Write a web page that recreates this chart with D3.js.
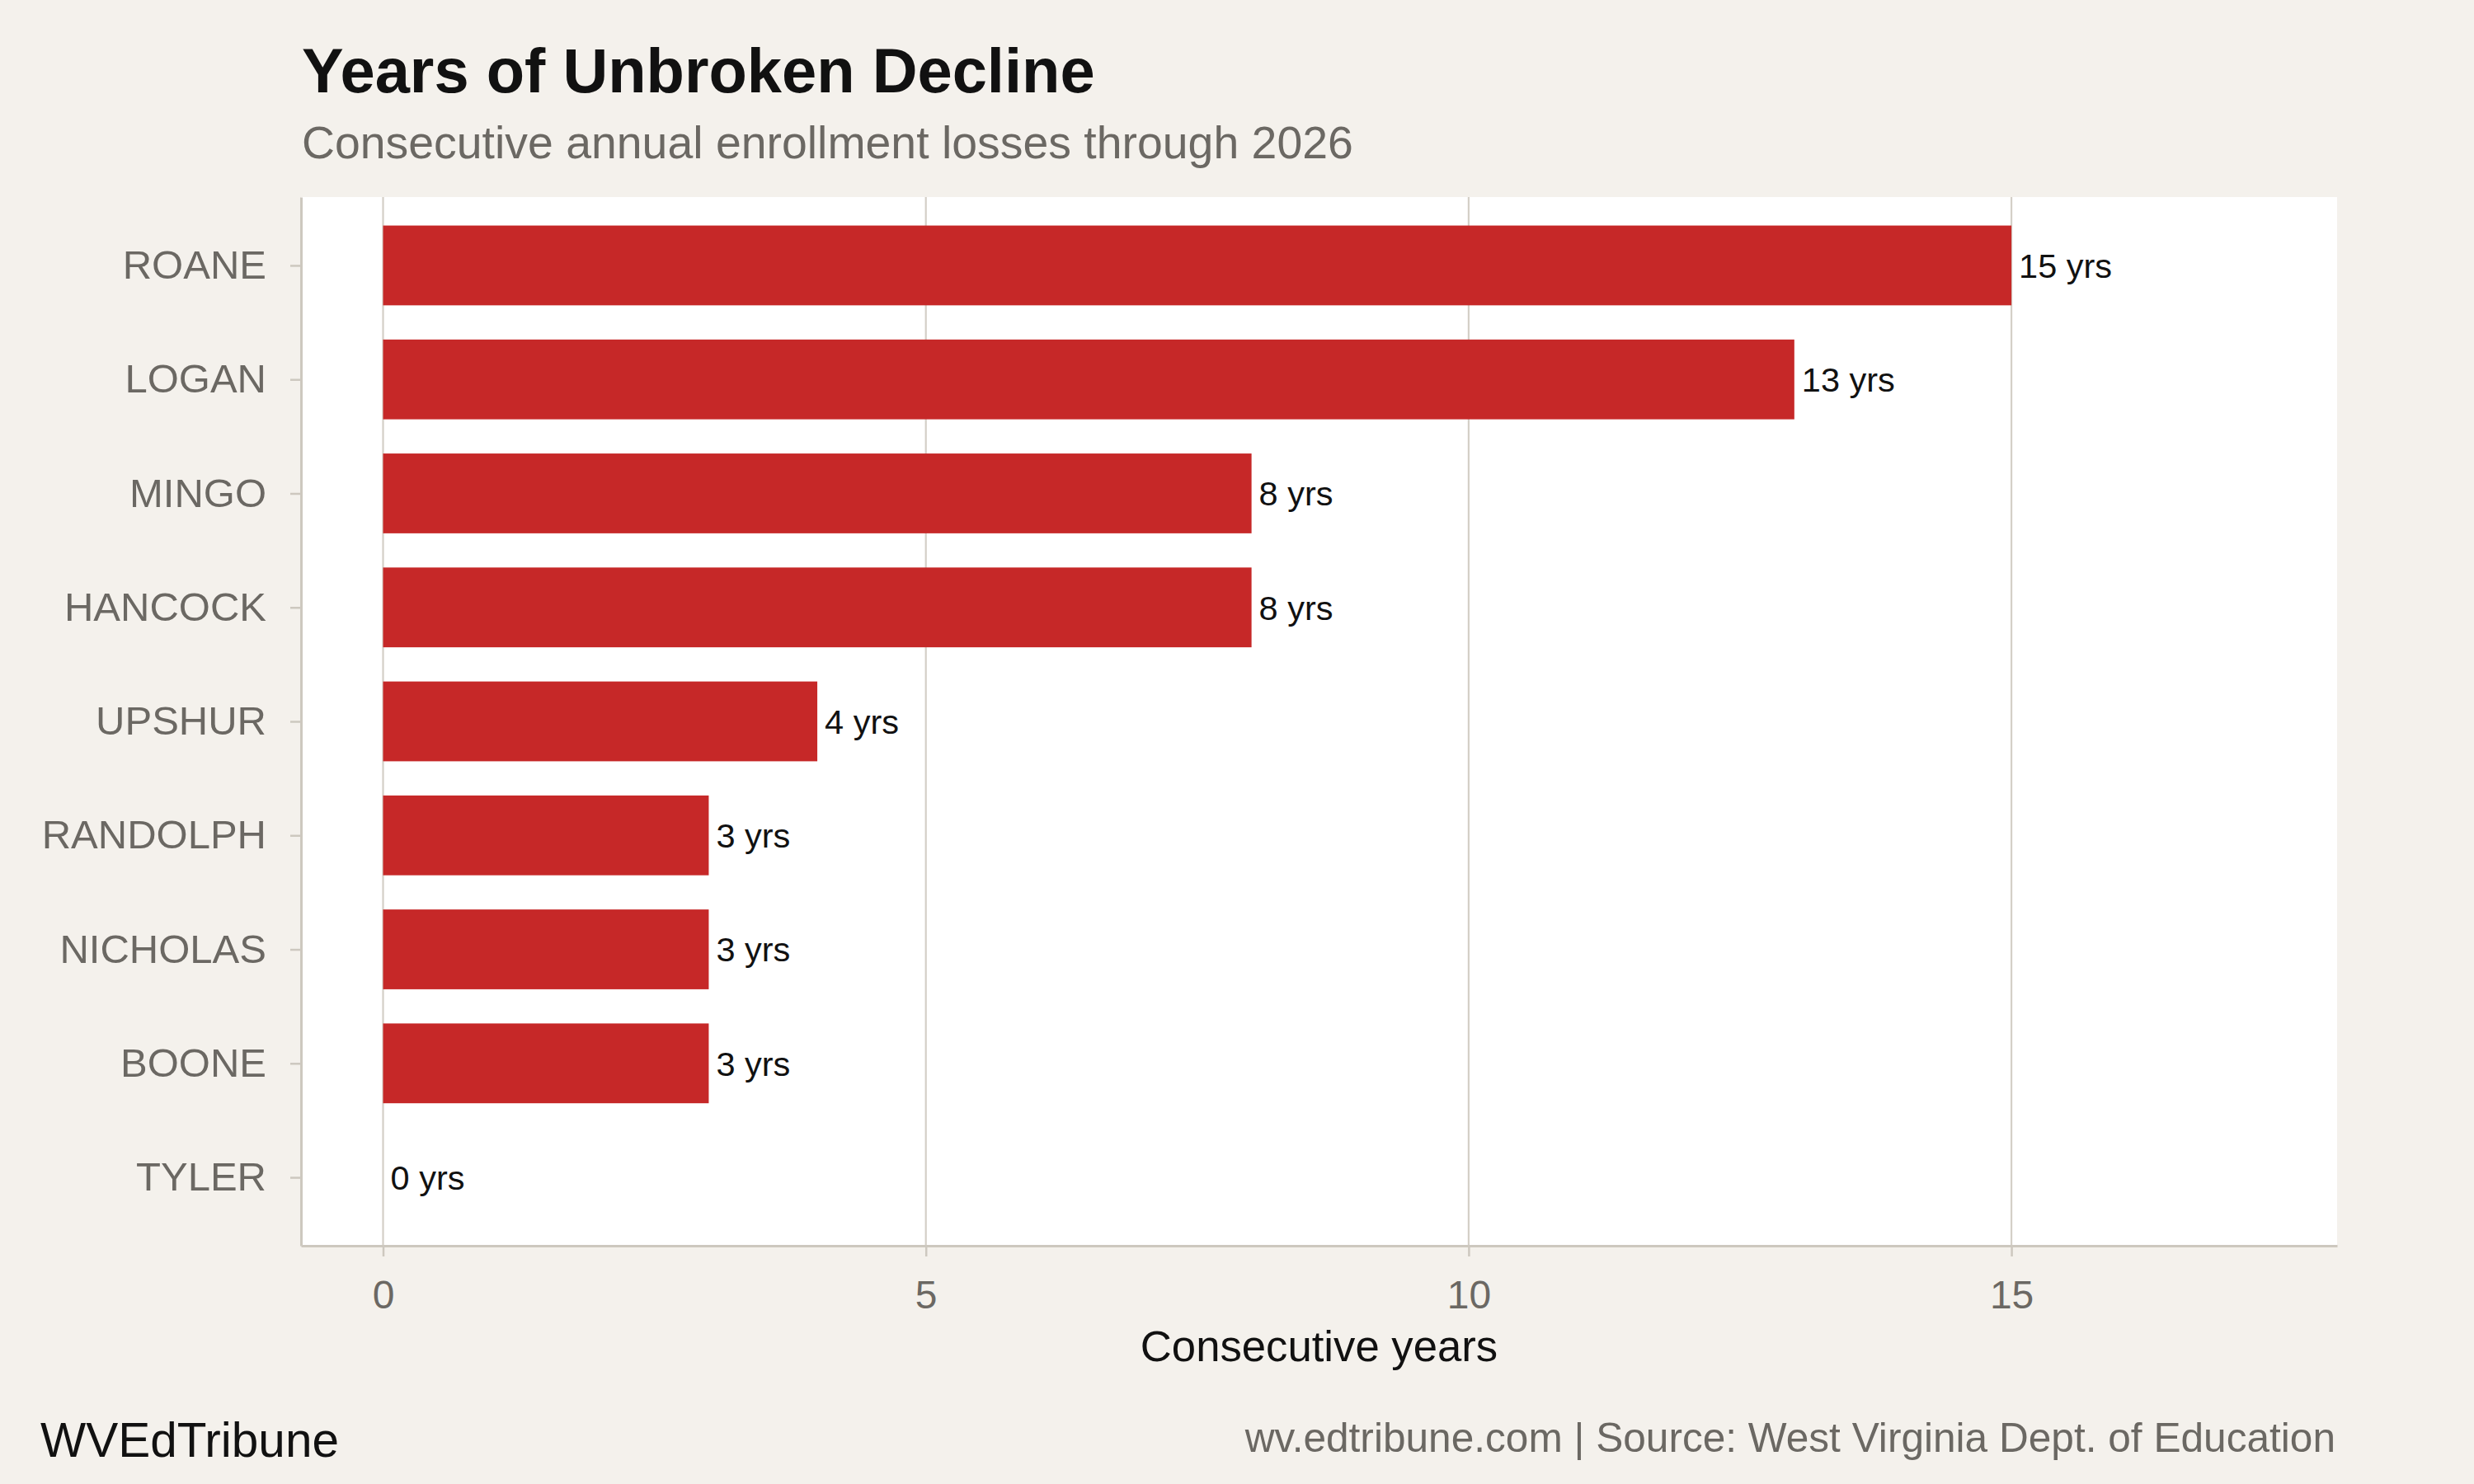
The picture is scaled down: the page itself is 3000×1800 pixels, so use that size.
<!DOCTYPE html>
<html>
<head>
<meta charset="utf-8">
<script src="https://cdn.jsdelivr.net/npm/d3@7"></script>
<style>
  html, body { margin: 0; padding: 0; background: #f4f1ec; }
  svg { display: block; font-family: "Liberation Sans", Arial, Helvetica, sans-serif; }
</style>
</head>
<body>
<svg id="chart" width="3000" height="1800"></svg>
<script>
// chart data
const counties = ["ROANE", "LOGAN", "MINGO", "HANCOCK", "UPSHUR", "RANDOLPH", "NICHOLAS", "BOONE", "TYLER"];
const streakYears = [15, 13, 8, 8, 4, 3, 3, 3, 0];
const xTicks = [0, 5, 10, 15];

const titleText = "Years of Unbroken Decline";
const subtitleText = "Consecutive annual enrollment losses through 2026";
const xAxisTitle = "Consecutive years";
const brandText = "WVEdTribune";
const captionText = "wv.edtribune.com | Source: West Virginia Dept. of Education";

// colours
const bgColor = "#f4f1ec";
const barColor = "#c62828";
const gridColor = "#d4cfc7";
const axisColor = "#cdc8bf";
const greyText = "#6b6863";
const darkText = "#111111";

// panel box
const panel = { left: 365, top: 239, right: 2834, bottom: 1511 };

const svg = d3.select("#chart");

svg.append("rect")
  .attr("width", 3000).attr("height", 1800)
  .attr("fill", bgColor);

svg.append("rect")
  .attr("x", panel.left).attr("y", panel.top)
  .attr("width", panel.right - panel.left)
  .attr("height", panel.bottom - panel.top)
  .attr("fill", "#ffffff");

// scales
const xScale = d3.scaleLinear()
  .domain([-0.756, 18])
  .range([panel.left, panel.right]);

const yScale = d3.scalePoint()
  .domain(counties)
  .range([panel.top, panel.bottom])
  .padding(0.6);

const barH = yScale.step() * 0.7;

// grid
svg.append("g")
  .selectAll("line")
  .data(xTicks)
  .join("line")
    .attr("x1", d => xScale(d)).attr("x2", d => xScale(d))
    .attr("y1", panel.top).attr("y2", panel.bottom)
    .attr("stroke", gridColor)
    .attr("stroke-width", 2.2);

// bars
const rows = counties.map((c, i) => ({ county: c, years: streakYears[i] }));

svg.append("g")
  .selectAll("rect")
  .data(rows)
  .join("rect")
    .attr("x", xScale(0))
    .attr("y", d => yScale(d.county) - barH / 2)
    .attr("width", d => xScale(d.years) - xScale(0))
    .attr("height", barH)
    .attr("fill", barColor);

// value labels
svg.append("g")
  .selectAll("text")
  .data(rows)
  .join("text")
    .attr("x", d => xScale(d.years) + 9)
    .attr("y", d => yScale(d.county))
    .attr("dy", "0.36em")
    .attr("font-size", 41.5)
    .attr("fill", darkText)
    .text(d => `${d.years} yrs`);

// axes
const xAxis = svg.append("g")
  .attr("transform", `translate(0,${panel.bottom})`)
  .call(d3.axisBottom(xScale).tickValues(xTicks).tickSize(13).tickSizeOuter(0).tickPadding(29));

const yAxis = svg.append("g")
  .attr("transform", `translate(${panel.left},0)`)
  .call(d3.axisLeft(yScale).tickSize(13).tickSizeOuter(0).tickPadding(29));

[xAxis, yAxis].forEach(ax => {
  ax.select(".domain").attr("stroke", axisColor).attr("stroke-width", 3);
  ax.selectAll(".tick line").attr("stroke", axisColor).attr("stroke-width", 2.5);
  ax.selectAll(".tick text")
    .attr("fill", greyText)
    .attr("font-size", 48)
    .attr("font-family", "Liberation Sans, Arial, Helvetica, sans-serif");
});
yAxis.selectAll(".tick text").attr("font-size", 49);

// titles
svg.append("text")
  .attr("x", 366).attr("y", 112)
  .attr("font-size", 75.9).attr("font-weight", "bold")
  .attr("fill", darkText)
  .text(titleText);

svg.append("text")
  .attr("x", 366).attr("y", 192)
  .attr("font-size", 55.4)
  .attr("fill", greyText)
  .text(subtitleText);

svg.append("text")
  .attr("x", (panel.left + panel.right) / 2).attr("y", 1651)
  .attr("text-anchor", "middle")
  .attr("font-size", 52.7)
  .attr("fill", darkText)
  .text(xAxisTitle);

// footer
svg.append("text")
  .attr("x", 49).attr("y", 1767)
  .attr("font-size", 58.5)
  .attr("fill", darkText)
  .text(brandText);

svg.append("text")
  .attr("x", panel.right - 2).attr("y", 1761)
  .attr("text-anchor", "end")
  .attr("font-size", 49.6)
  .attr("fill", greyText)
  .text(captionText);
</script>
</body>
</html>
